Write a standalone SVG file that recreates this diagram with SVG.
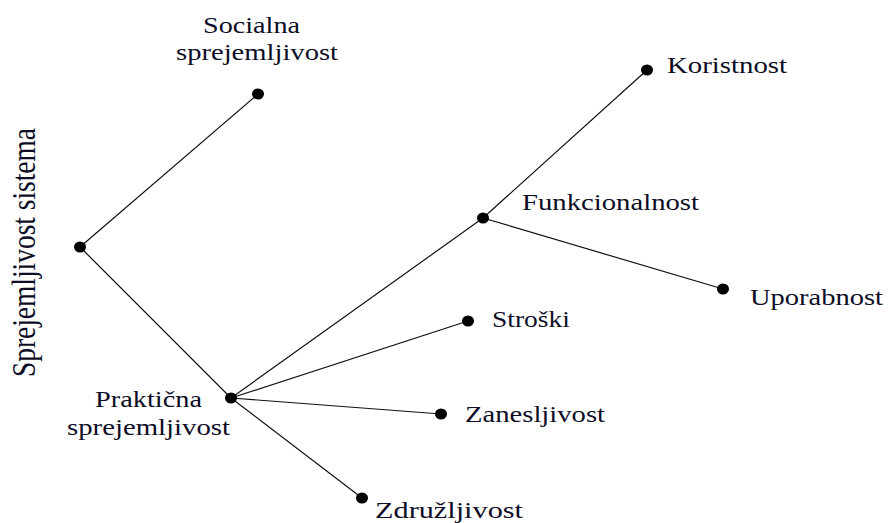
<svg xmlns="http://www.w3.org/2000/svg" width="889" height="523" viewBox="0 0 889 523">
<style>
.lbl{font-family:"Liberation Serif","Times New Roman",serif;font-size:23.5px;fill:#0d0d26}
.dot{fill:#000}
.edge{stroke:#111;stroke-width:1.2;fill:none}
</style>
<rect width="889" height="523" fill="#fff"/>
<g id="connectors">
<line class="edge" x1="80" y1="247" x2="258" y2="94"/>
<line class="edge" x1="80" y1="247" x2="231" y2="398"/>
<line class="edge" x1="231" y1="398" x2="483" y2="218"/>
<line class="edge" x1="483" y1="218" x2="647" y2="70"/>
<line class="edge" x1="483" y1="218" x2="723" y2="289"/>
<line class="edge" x1="231" y1="398" x2="468" y2="321"/>
<line class="edge" x1="231" y1="398" x2="441" y2="414"/>
<line class="edge" x1="231" y1="398" x2="362" y2="498"/>
</g>
<g id="root">
<ellipse class="dot" cx="80" cy="247" rx="6" ry="5.5"/>
<text class="lbl" transform="translate(35,377) scale(1.27,1) rotate(-90)" x="0" y="0" style="font-size:26.5px" textLength="249" lengthAdjust="spacingAndGlyphs">Sprejemljivost sistema</text>
</g>
<g id="socialna">
<ellipse class="dot" cx="258" cy="94" rx="6" ry="5.5"/>
<text class="lbl" x="203" y="33" textLength="97" lengthAdjust="spacingAndGlyphs">Socialna</text>
<text class="lbl" x="176" y="60" textLength="162" lengthAdjust="spacingAndGlyphs">sprejemljivost</text>
</g>
<g id="prakticna">
<ellipse class="dot" cx="231" cy="398" rx="6" ry="5.5"/>
<text class="lbl" x="95" y="407" textLength="107" lengthAdjust="spacingAndGlyphs">Praktična</text>
<text class="lbl" x="67" y="435" textLength="163" lengthAdjust="spacingAndGlyphs">sprejemljivost</text>
</g>
<g id="funkcionalnost">
<ellipse class="dot" cx="483" cy="218" rx="6" ry="5.5"/>
<text class="lbl" x="522" y="210" textLength="177" lengthAdjust="spacingAndGlyphs">Funkcionalnost</text>
</g>
<g id="koristnost">
<ellipse class="dot" cx="647" cy="70" rx="6" ry="5.5"/>
<text class="lbl" x="667" y="73" textLength="120" lengthAdjust="spacingAndGlyphs">Koristnost</text>
</g>
<g id="uporabnost">
<ellipse class="dot" cx="723" cy="289" rx="6" ry="5.5"/>
<text class="lbl" x="750" y="305" textLength="133" lengthAdjust="spacingAndGlyphs">Uporabnost</text>
</g>
<g id="stroski">
<ellipse class="dot" cx="468" cy="321" rx="6" ry="5.5"/>
<text class="lbl" x="492" y="327" textLength="78" lengthAdjust="spacingAndGlyphs">Stroški</text>
</g>
<g id="zanesljivost">
<ellipse class="dot" cx="441" cy="414" rx="6" ry="5.5"/>
<text class="lbl" x="465" y="422" textLength="140" lengthAdjust="spacingAndGlyphs">Zanesljivost</text>
</g>
<g id="zdruzljivost">
<ellipse class="dot" cx="362" cy="498" rx="6" ry="5.5"/>
<text class="lbl" x="375" y="518" textLength="148" lengthAdjust="spacingAndGlyphs">Združljivost</text>
</g>
</svg>
